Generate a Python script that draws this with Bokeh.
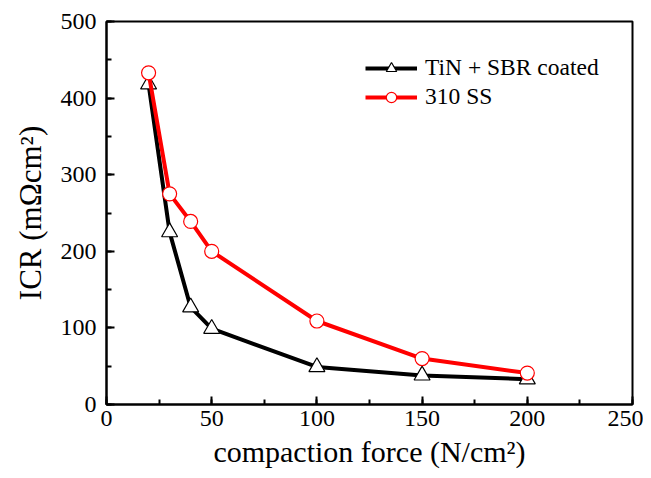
from bokeh.plotting import figure
from bokeh.models import SingleIntervalTicker, Legend, LegendItem
from bokeh.embed import file_html
from bokeh.resources import INLINE

force = [20, 30, 40, 50, 100, 150, 200]
tin_sbr = [418, 225, 127, 99, 49, 38, 33]
ss310 = [433, 275, 239, 200, 109, 60, 41]

x_title = "compaction force (N/cm²)"
y_title = "ICR (mΩcm²)"

FONT = "Times New Roman, Liberation Serif, serif"

p = figure(width=643, height=478, output_backend="svg", toolbar_location=None,
           x_range=(0, 250), y_range=(0, 500),
           min_border_left=106, min_border_right=11, min_border_top=21, min_border_bottom=74)
p.xgrid.visible = False
p.ygrid.visible = False
p.outline_line_color = "black"
p.outline_line_width = 2
p.background_fill_color = "white"
p.border_fill_color = "white"

p.xaxis.ticker = SingleIntervalTicker(interval=50, num_minor_ticks=2)
p.yaxis.ticker = SingleIntervalTicker(interval=100, num_minor_ticks=2)
for ax in (p.xaxis[0], p.yaxis[0]):
    ax.axis_line_width = 2
    ax.major_tick_in = 8
    ax.major_tick_out = 0
    ax.minor_tick_in = 5
    ax.minor_tick_out = 0
    ax.major_tick_line_width = 2
    ax.minor_tick_line_width = 2
    ax.major_label_text_font = FONT
    ax.major_label_text_font_size = "24px"
    ax.major_label_text_font_style = "normal"
    ax.major_label_text_color = "black"
    ax.axis_label_text_font = FONT
    ax.axis_label_text_font_style = "normal"
    ax.axis_label_text_color = "black"
p.xaxis.axis_label_text_font_size = "30px"
p.yaxis.axis_label_text_font_size = "31px"
p.xaxis.axis_label = x_title
p.yaxis.axis_label = y_title
p.xaxis.major_label_standoff = 6
p.yaxis.major_label_standoff = 10
p.xaxis.axis_label_standoff = 6
p.yaxis.axis_label_standoff = 10

l1 = p.line(force, tin_sbr, line_color="black", line_width=4)
s1 = p.scatter(force, tin_sbr, marker="triangle", size=16, fill_color="white",
               line_color="black", line_width=1.2)
l2 = p.line(force, ss310, line_color="red", line_width=4)
s2 = p.scatter(force, ss310, marker="circle", size=14, fill_color="white",
               line_color="red", line_width=1.2)

legend = Legend(items=[LegendItem(label="TiN + SBR coated", renderers=[l1, s1]),
                       LegendItem(label="310 SS", renderers=[l2, s2])],
                location=(257, 292), border_line_alpha=0, background_fill_alpha=0,
                glyph_width=52, glyph_height=26, spacing=2, padding=2,
                margin=0, label_standoff=8)
p.add_layout(legend)
legend.label_text_font = FONT
legend.label_text_font_size = "23.5px"
legend.label_text_font_style = "normal"
legend.label_text_color = "black"

open("out.html", "w").write(file_html(p, INLINE))
